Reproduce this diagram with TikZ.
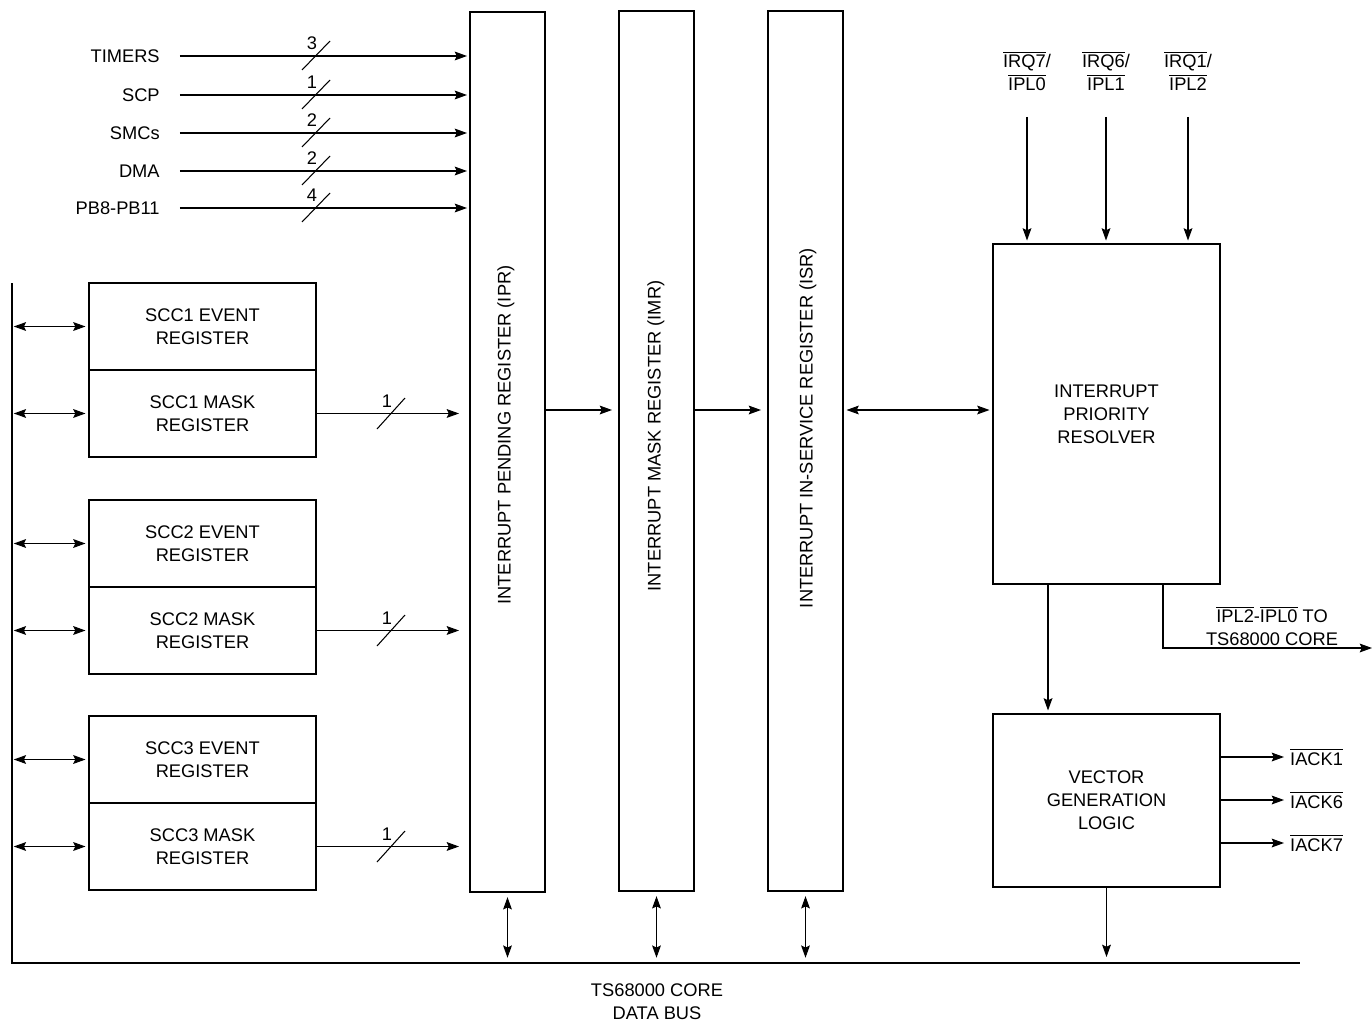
\documentclass[tikz,border=0pt]{standalone}
\usepackage{fontspec}
\setmainfont{Liberation Sans}
\usetikzlibrary{arrows.meta,positioning}
\newcommand{\actlow}[1]{$\overline{\mbox{#1}}$}
\begin{document}
\begin{tikzpicture}[x=0.02cm,y=-0.02cm,
    every node/.append style={font=\fontsize{10.4}{13}\selectfont},
    box/.style={draw, line width=1.1pt, outer sep=0pt, align=center},
    tallreg/.style={box, minimum width=1.5cm, minimum height=17.6cm},
    sccreg/.style={box, minimum width=4.54cm, minimum height=1.74cm},
    sig/.style={line width=0.6pt, -{Stealth[length=7pt,width=5pt,inset=1.2pt]}},
    bidir/.style={line width=0.6pt, {Stealth[length=7pt,width=5pt,inset=1.2pt]}-{Stealth[length=7pt,width=5pt,inset=1.2pt]}},
    slash/.style={line width=0.6pt}
]
\useasboundingbox (0,0) rectangle (1372,1021);

% the three big registers
\node[tallreg] (ipr) at (507.5,452) {};
\node[tallreg] (imr) at (656.5,451) {};
\node[tallreg] (isr) at (805.5,451) {};
\node[rotate=90] at (506,435) {INTERRUPT PENDING REGISTER (IPR)};
\node[rotate=90] at (656,436) {INTERRUPT MASK REGISTER (IMR)};
\node[rotate=90] at (808,428) {INTERRUPT IN-SERVICE REGISTER (ISR)};

% resolver and vector logic
\node[box, minimum width=4.54cm, minimum height=6.8cm] (res) at (1106.5,414) {INTERRUPT\\PRIORITY\\RESOLVER};
\node[box, minimum width=4.54cm, minimum height=3.46cm] (vec) at (1106.5,800.5) {VECTOR\\GENERATION\\LOGIC};

% data bus
\coordinate (bustop) at (12,283);
\coordinate (buscorner) at (12,963);
\coordinate (busend) at (1300,963);
\coordinate (chainy) at (0,410);
\draw[line width=0.6pt] (bustop) -- (buscorner) -- (busend);
\node[align=center] (databus) at (657,1002) {TS68000 CORE\\DATA BUS};

% inputs
\foreach \nm/\txt/\y/\n in {timers/TIMERS/56/3, scp/SCP/95/1, smcs/SMCs/133/2, dma/DMA/171/2, pb/PB8-PB11/208/4} {
  \node[anchor=east, inner sep=0pt] (\nm) at (160,\y) {\txt};
  \draw[sig, shorten <=0.4cm, shorten >=0.06cm] (\nm.east) -- (\nm.east -| ipr.west);
  \draw[slash] (302,\y+14) -- (330,\y-15);
  \node at (312,\y-13) {\n};
}

% SCC registers
\foreach \i/\y in {1/326.5,2/543.5,3/759.5} {
  \node[sccreg] (evt\i) at (202.5,\y) {SCC\i{} EVENT\\REGISTER};
  \node[sccreg, below=0pt of evt\i] (msk\i) {SCC\i{} MASK\\REGISTER};
  \draw[bidir, shorten <=1pt, shorten >=2pt] (evt\i.west -| bustop) -- (evt\i.west);
  \draw[bidir, shorten <=1pt, shorten >=2pt] (msk\i.west -| bustop) -- (msk\i.west);
  \draw[sig, shorten >=0.22cm] (msk\i.east) -- (msk\i.east -| ipr.west);
  \draw[slash] (377,\y+102.5) -- (405,\y+71.5);
  \node at (387,\y+75) {1};
}

% register chain
\draw[sig, shorten >=0.14cm] (ipr.east |- chainy) -- (imr.west |- chainy);
\draw[sig, shorten >=0.14cm] (imr.east |- chainy) -- (isr.west |- chainy);
\draw[bidir, shorten <=2pt, shorten >=2pt] (isr.east |- chainy) -- (res.west |- chainy);
\foreach \r in {ipr,imr,isr}
  \draw[bidir, shorten <=3pt, shorten >=3pt] (\r.south) -- (\r.south |- busend);

% interrupt requests
\foreach \n/\p/\x in {7/0/1027,6/1/1106,1/2/1188} {
  \node[align=center] (irq\n) at (\x,71) {\actlow{IRQ\n}/\\\actlow{IPL\p}};
  \draw[sig, shorten <=0.4cm, shorten >=2pt] (irq\n.south) -- (irq\n.south |- res.north);
}

% outputs
\draw[sig, shorten >=2pt] ([xshift=-1.17cm]res.south) -- ([xshift=-1.17cm]vec.north);
\coordinate (iplend) at (1372,648);
\draw[sig] ([xshift=1.13cm]res.south) |- (iplend);
\node[align=center] (iplout) at (1272,626) {\actlow{IPL2}-\actlow{IPL0} TO\\TS68000 CORE};
\draw[sig, shorten >=0.12cm] (vec.south) -- (vec.south |- busend);
\foreach \n/\y in {1/757,6/800,7/843} {
  \node[anchor=west] (iack\n) at (1284,\y) {\actlow{IACK\n}};
  \draw[sig] (vec.east |- iack\n.west) -- (iack\n.west);
}
\end{tikzpicture}
\end{document}
